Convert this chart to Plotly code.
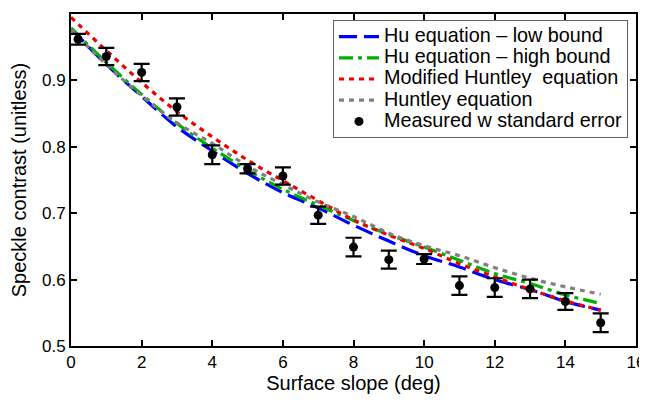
import plotly.graph_objects as go

# ---- data ----
curve_x = [0, 1, 2, 3, 4, 5, 6, 7, 8, 9, 10, 11, 12, 13, 14, 15]
hu_low = [0.978, 0.924, 0.876, 0.830, 0.794, 0.760, 0.731, 0.708, 0.682, 0.658, 0.636, 0.619, 0.600, 0.585, 0.567, 0.554]
hu_high = [0.979, 0.927, 0.879, 0.835, 0.798, 0.765, 0.736, 0.712, 0.689, 0.668, 0.649, 0.629, 0.609, 0.594, 0.577, 0.564]
mod_huntley = [0.995, 0.945, 0.897, 0.853, 0.815, 0.780, 0.749, 0.719, 0.690, 0.667, 0.647, 0.624, 0.604, 0.585, 0.568, 0.554]
huntley = [0.976, 0.924, 0.877, 0.836, 0.805, 0.771, 0.743, 0.717, 0.695, 0.670, 0.651, 0.636, 0.618, 0.602, 0.589, 0.578]

meas_x = [0.2, 1, 2, 3, 4, 5, 6, 7, 8, 9, 10, 11, 12, 13, 14, 15]
meas_y = [0.962, 0.936, 0.912, 0.860, 0.788, 0.767, 0.756, 0.697, 0.649, 0.630, 0.631, 0.591, 0.588, 0.586, 0.567, 0.535]
meas_err = [0.008, 0.013, 0.013, 0.013, 0.014, 0.007, 0.013, 0.013, 0.014, 0.0135, 0.0075, 0.014, 0.014, 0.014, 0.0125, 0.014]

series_names = ["Hu equation \u2013 low bound", "Hu equation \u2013 high bound",
                "Modified Huntley  equation", "Huntley equation", "Measured w standard error"]

x_ticks = [0, 2, 4, 6, 8, 10, 12, 14, 16]
y_ticks = [0.5, 0.6, 0.7, 0.8, 0.9, 1.0]
y_tick_text = ["0.5", "0.6", "0.7", "0.8", "0.9", "1"]

FONT = "Liberation Sans, Arial, Helvetica, sans-serif"


def lg(name):
    # larger text inside a compact legend row
    return '<span style="font-size:19.8px">' + name + '</span>'


fig = go.Figure()
fig.add_trace(go.Scatter(x=curve_x, y=hu_low, mode="lines", line_shape="spline",
                         name=lg(series_names[0]),
                         line=dict(color="#0000ff", width=3.2, dash="18px,7px")))
fig.add_trace(go.Scatter(x=curve_x, y=hu_high, mode="lines", line_shape="spline",
                         name=lg(series_names[1]),
                         line=dict(color="#00b000", width=3.2, dash="14px,5px,4px,5px")))
fig.add_trace(go.Scatter(x=curve_x, y=mod_huntley, mode="lines", line_shape="spline",
                         name=lg(series_names[2]),
                         line=dict(color="#ee0000", width=3.2, dash="5px,5px")))
fig.add_trace(go.Scatter(x=curve_x, y=huntley, mode="lines", line_shape="spline",
                         name=lg(series_names[3]),
                         line=dict(color="#808080", width=3.2, dash="5px,5px")))
fig.add_trace(go.Scatter(x=meas_x, y=meas_y, mode="markers",
                         name=lg(series_names[4]),
                         marker=dict(color="black", size=9),
                         error_y=dict(type="data", array=meas_err, visible=True,
                                      color="black", thickness=2.2, width=8)))

axis_common = dict(showline=True, linecolor="black", linewidth=2, mirror="ticks",
                   ticks="inside", ticklen=6, tickwidth=1.5, tickcolor="black",
                   showgrid=False, zeroline=False, automargin=False,
                   tickfont=dict(family=FONT, size=17, color="black"))

fig.update_xaxes(range=[0, 16], tickvals=x_ticks,
                 title=dict(text="Surface slope (deg)", font=dict(family=FONT, size=20, color="black"), standoff=1),
                 **axis_common)
fig.update_yaxes(range=[0.5, 1.0], tickvals=y_ticks, ticktext=y_tick_text,
                 title=dict(text="Speckle contrast (unitless)", font=dict(family=FONT, size=20, color="black"), standoff=12),
                 **axis_common)

# the page body adds an 8px offset; margins compensate for it
fig.update_layout(
    width=647, height=387,
    margin=dict(l=63, r=19, t=6, b=49),
    paper_bgcolor="white", plot_bgcolor="white",
    font=dict(family=FONT, color="black"),
    legend=dict(x=0.4637, y=0.982, xanchor="left", yanchor="top",
                bgcolor="white", bordercolor="#606060", borderwidth=1,
                font=dict(family=FONT, size=14, color="black"),
                tracegroupgap=0, itemwidth=40),
)

fig.write_html("out.html")
